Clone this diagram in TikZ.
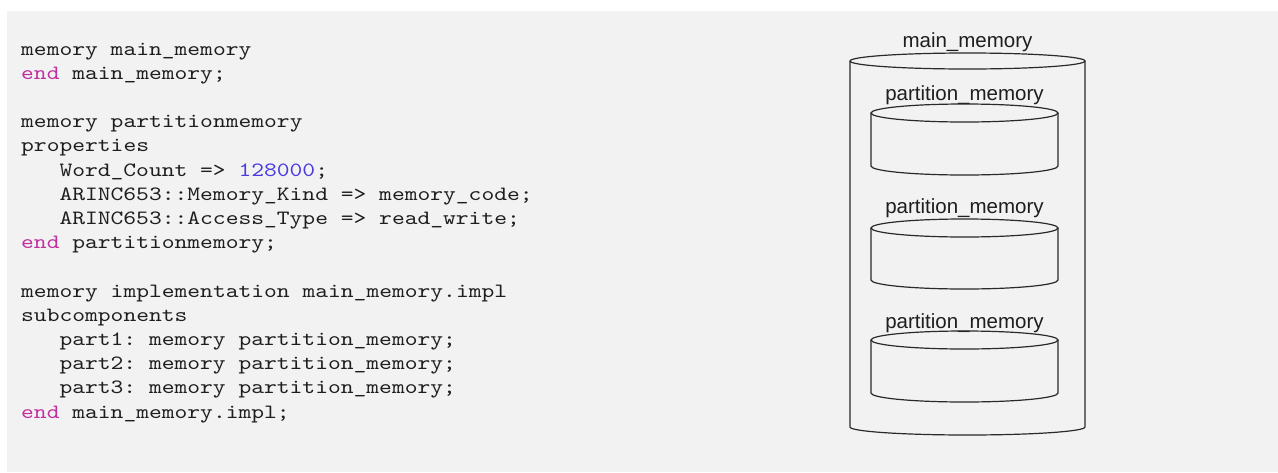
\documentclass[tikz,border=0pt]{standalone}
\usepackage{fontspec}
\setmainfont{Liberation Sans}
\newfontfamily\codefont{lmmono10-regular}[Extension=.otf, FakeStretch=1.2]
\definecolor{panel}{HTML}{F2F2F2}
\definecolor{kw}{HTML}{C0309F}
\definecolor{num}{HTML}{4A3AE0}
\definecolor{ink}{HTML}{1E1E1E}
\definecolor{edge}{HTML}{2A2A2A}
\begin{document}
\begin{tikzpicture}[x=1pt,y=-1pt,
  codeline/.style={anchor=base west, inner sep=0pt, text=ink,
    font=\codefont\fontsize{20.3}{24}\selectfont\frenchspacing},
  drumlabel/.style={anchor=base, inner sep=0pt, text=ink,
    font=\fontsize{20.5}{24}\selectfont},
  drumline/.style={draw=edge, line width=1.2pt}]
\useasboundingbox (0,0) rectangle (1278,472);
\fill[panel] (7,11) rectangle (1278,472);

% AADL source listing
\node[codeline] (c1)  at (21,55)     {memory main\_memory};
\node[codeline] (c2)  at (21,79.2)   {\textcolor{kw}{end} main\_memory;};
\node[codeline] (c4)  at (21,127.6)  {memory partitionmemory};
\node[codeline] (c5)  at (21,151.8)  {properties};
\node[codeline] (c6)  at (59.3,176)  {Word\_Count => \textcolor{num}{128000};};
\node[codeline] (c7)  at (59.3,200.2){ARINC653::Memory\_Kind => memory\_code;};
\node[codeline] (c8)  at (59.3,224.4){ARINC653::Access\_Type => read\_write;};
\node[codeline] (c9)  at (21,248.6)  {\textcolor{kw}{end} partitionmemory;};
\node[codeline] (c11) at (21,297)    {memory implementation main\_memory.impl};
\node[codeline] (c12) at (21,321.2)  {subcomponents};
\node[codeline] (c13) at (59.3,345.4){part1: memory partition\_memory;};
\node[codeline] (c14) at (59.3,369.6){part2: memory partition\_memory;};
\node[codeline] (c15) at (59.3,393.8){part3: memory partition\_memory;};
\node[codeline] (c16) at (21,418)    {\textcolor{kw}{end} main\_memory.impl;};

% outer memory drum
\node[drumlabel] (mainlbl) at (967.5,47) {main\_memory};
\draw[drumline] (967.5,61) ellipse [x radius=117.5pt, y radius=8pt];
\draw[drumline] (850,61) -- (850,427)
  arc[start angle=180, end angle=360, x radius=117.5pt, y radius=8pt] -- (1085,61);

% three partition drums inside
\foreach \t/\b/\lb [count=\i] in {113/166/100, 228/280/213, 340/393/328} {
  \node[drumlabel] (part\i) at (964.5,\lb) {partition\_memory};
  \draw[drumline] (964.5,\t) ellipse [x radius=93.5pt, y radius=9pt];
  \draw[drumline] (871,\t) -- (871,\b)
    arc[start angle=180, end angle=360, x radius=93.5pt, y radius=9pt] -- (1058,\t);
}
\end{tikzpicture}
\end{document}
